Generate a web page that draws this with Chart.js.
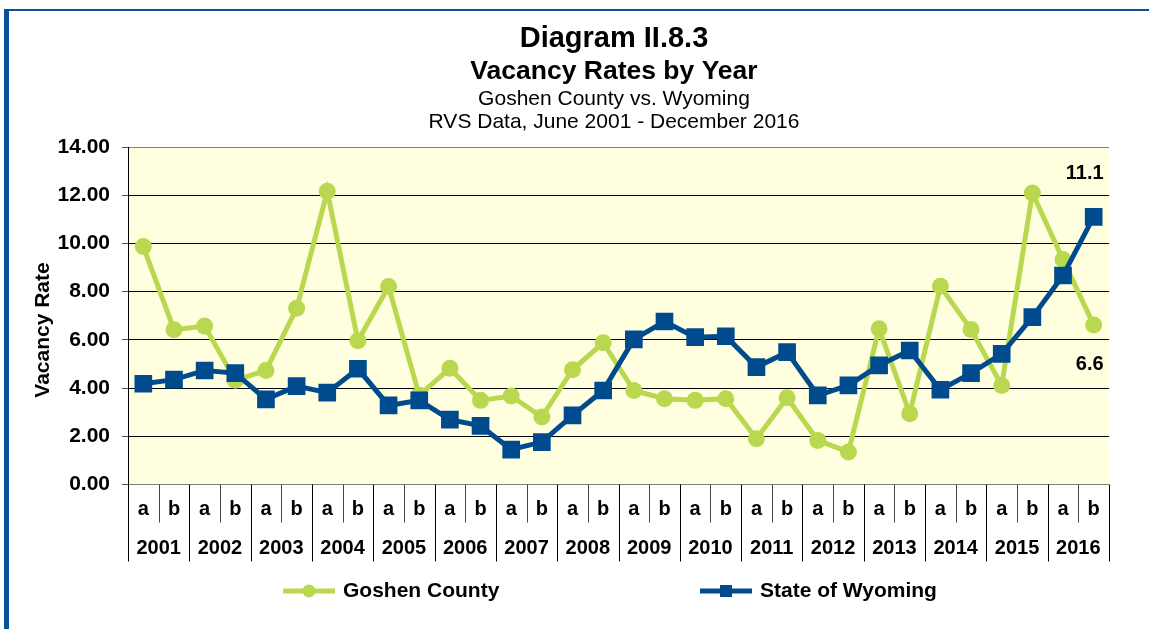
<!DOCTYPE html>
<html>
<head>
<meta charset="utf-8">
<title>Vacancy Rates by Year</title>
<script src="https://cdn.jsdelivr.net/npm/chart.js@4.4.1/dist/chart.umd.min.js"></script>
<style>
  html, body { margin: 0; padding: 0; background: #fff; }
  #wrap { width: 1149px; height: 629px; }
</style>
</head>
<body>
<div id="wrap"><canvas id="chart" width="1149" height="629"></canvas></div>
<script>
// data
const years = ['2001', '2002', '2003', '2004', '2005', '2006', '2007', '2008',
               '2009', '2010', '2011', '2012', '2013', '2014', '2015', '2016'];
const halves = ['a', 'b'];
const categories = years.flatMap(y => halves.map(h => y + h));

const goshen = [9.87, 6.42, 6.57, 4.32, 4.73, 7.31, 12.16, 5.96, 8.21, 3.70, 4.82, 3.49,
                3.67, 2.80, 4.76, 5.88, 3.90, 3.56, 3.49, 3.56, 1.90, 3.60, 1.83, 1.35,
                6.46, 2.94, 8.22, 6.43, 4.11, 12.09, 9.33, 6.62];
const wyoming = [4.18, 4.35, 4.73, 4.62, 3.53, 4.08, 3.81, 4.80, 3.28, 3.49, 2.69, 2.43,
                 1.45, 1.76, 2.87, 3.90, 6.02, 6.76, 6.11, 6.15, 4.87, 5.49, 3.70, 4.11,
                 4.94, 5.56, 3.93, 4.62, 5.42, 6.94, 8.67, 11.1];
const yTicks = [0, 2, 4, 6, 8, 10, 12, 14];

const GREEN = '#B9D84F';
const BLUE = '#004B8D';
const FONT = '"Liberation Sans", Arial, sans-serif';

// background of plot + outer frame
const backdrop = {
  id: 'backdrop',
  beforeDraw(chart) {
    const { ctx, chartArea: a } = chart;
    ctx.save();
    ctx.fillStyle = '#FFFFE0';
    ctx.fillRect(a.left, a.top, a.right - a.left, a.bottom - a.top);
    ctx.fillStyle = '#0B4F96';
    ctx.fillRect(4, 9, 1145, 2);
    ctx.fillRect(4, 9, 5, 620);
    ctx.restore();
  }
};

// titles, two level x axis, legend, end labels
const decor = {
  id: 'decor',
  afterDraw(chart) {
    const { ctx, chartArea: a } = chart;
    const xs = chart.scales.x;
    ctx.save();
    ctx.fillStyle = '#000';
    ctx.textAlign = 'center';
    ctx.textBaseline = 'alphabetic';
    const cx = 614;
    ctx.font = 'bold 29px ' + FONT;
    ctx.fillText('Diagram II.8.3', cx, 47);
    ctx.font = 'bold 26.5px ' + FONT;
    ctx.fillText('Vacancy Rates by Year', cx, 79);
    ctx.font = '21px ' + FONT;
    ctx.fillText('Goshen County vs. Wyoming', cx, 105);
    ctx.fillText('RVS Data, June 2001 - December 2016', cx, 128);

    // y title
    ctx.save();
    ctx.translate(43, 330);
    ctx.rotate(-Math.PI / 2);
    ctx.font = 'bold 21px ' + FONT;
    ctx.textBaseline = 'middle';
    ctx.fillText('Vacancy Rate', 0, 0);
    ctx.restore();

    // x axis: halves and years
    const step = (xs.right - xs.left) / categories.length;
    ctx.lineWidth = 1;
    ctx.textBaseline = 'middle';
    ctx.font = 'bold 20px ' + FONT;
    for (let i = 0; i <= categories.length; i++) {
      const x = Math.round(xs.left + i * step) + 0.5;
      const yearEdge = i % 2 === 0;
      ctx.strokeStyle = yearEdge ? '#000' : '#444';
      ctx.beginPath();
      ctx.moveTo(x, a.bottom);
      ctx.lineTo(x, yearEdge ? a.bottom + 77 : a.bottom + 38);
      ctx.stroke();
    }
    categories.forEach((c, i) => {
      ctx.fillText(halves[i % 2], xs.getPixelForValue(i), a.bottom + 25);
    });
    years.forEach((y, j) => {
      const mid = (xs.getPixelForValue(2 * j) + xs.getPixelForValue(2 * j + 1)) / 2;
      ctx.fillText(y, mid, a.bottom + 64);
    });

    // legend
    const legendY = 591;
    const items = [
      { label: chart.data.datasets[0].label, color: GREEN, x: 283, shape: 'circle' },
      { label: chart.data.datasets[1].label, color: BLUE, x: 700, shape: 'rect' }
    ];
    ctx.font = 'bold 21px ' + FONT;
    ctx.textAlign = 'left';
    items.forEach(it => {
      ctx.strokeStyle = it.color;
      ctx.fillStyle = it.color;
      ctx.lineWidth = 5;
      ctx.beginPath();
      ctx.moveTo(it.x, legendY);
      ctx.lineTo(it.x + 52, legendY);
      ctx.stroke();
      const mx = it.x + 26;
      if (it.shape === 'circle') {
        ctx.beginPath();
        ctx.arc(mx, legendY, 6.5, 0, Math.PI * 2);
        ctx.fill();
      } else {
        ctx.fillRect(mx - 6, legendY - 6, 12, 12);
      }
      ctx.fillStyle = '#000';
      ctx.fillText(it.label, it.x + 60, legendY);
    });

    // end value labels
    ctx.font = 'bold 20px ' + FONT;
    ctx.textAlign = 'right';
    const wLast = chart.getDatasetMeta(1).data[wyoming.length - 1];
    const gLast = chart.getDatasetMeta(0).data[goshen.length - 1];
    ctx.fillText(wyoming[wyoming.length - 1].toFixed(1), wLast.x + 10, wLast.y - 43);
    ctx.fillText(goshen[goshen.length - 1].toFixed(1), gLast.x + 10, gLast.y + 40);
    ctx.restore();
  }
};

new Chart(document.getElementById('chart'), {
  type: 'line',
  data: {
    labels: categories,
    datasets: [
      {
        label: 'Goshen County',
        data: goshen,
        borderColor: GREEN,
        backgroundColor: GREEN,
        borderWidth: 5,
        pointStyle: 'circle',
        pointRadius: 8.5,
        pointBorderWidth: 0,
        order: 2
      },
      {
        label: 'State of Wyoming',
        data: wyoming,
        borderColor: BLUE,
        backgroundColor: BLUE,
        borderWidth: 5,
        pointStyle: 'rect',
        pointRadius: 12.5,
        pointBorderWidth: 0,
        order: 1
      }
    ]
  },
  options: {
    responsive: false,
    animation: false,
    devicePixelRatio: 1,
    layout: { padding: { left: 10, right: 40, top: 147, bottom: 67.5 } },
    plugins: {
      legend: { display: false },
      title: { display: false },
      tooltip: { enabled: false }
    },
    scales: {
      x: {
        type: 'category',
        offset: true,
        grid: { display: false },
        border: { display: false },
        ticks: { display: false },
        afterFit(s) { s.height = 77; }
      },
      y: {
        min: 0,
        max: 14,
        afterBuildTicks(s) { s.ticks = yTicks.map(v => ({ value: v })); },
        ticks: {
          color: '#000',
          padding: 12,
          font: { family: FONT, size: 21, weight: 'bold' },
          callback: v => Number(v).toFixed(2)
        },
        grid: {
          color: c => (c.tick && (c.tick.value === 0 || c.tick.value === 14)) ? '#808080' : '#000',
          tickLength: 6,
          tickColor: '#555',
          lineWidth: 1
        },
        border: { display: true, color: '#000', width: 1 },
        afterFit(s) { s.width = 118; }
      }
    }
  },
  plugins: [backdrop, decor]
});
</script>
</body>
</html>
